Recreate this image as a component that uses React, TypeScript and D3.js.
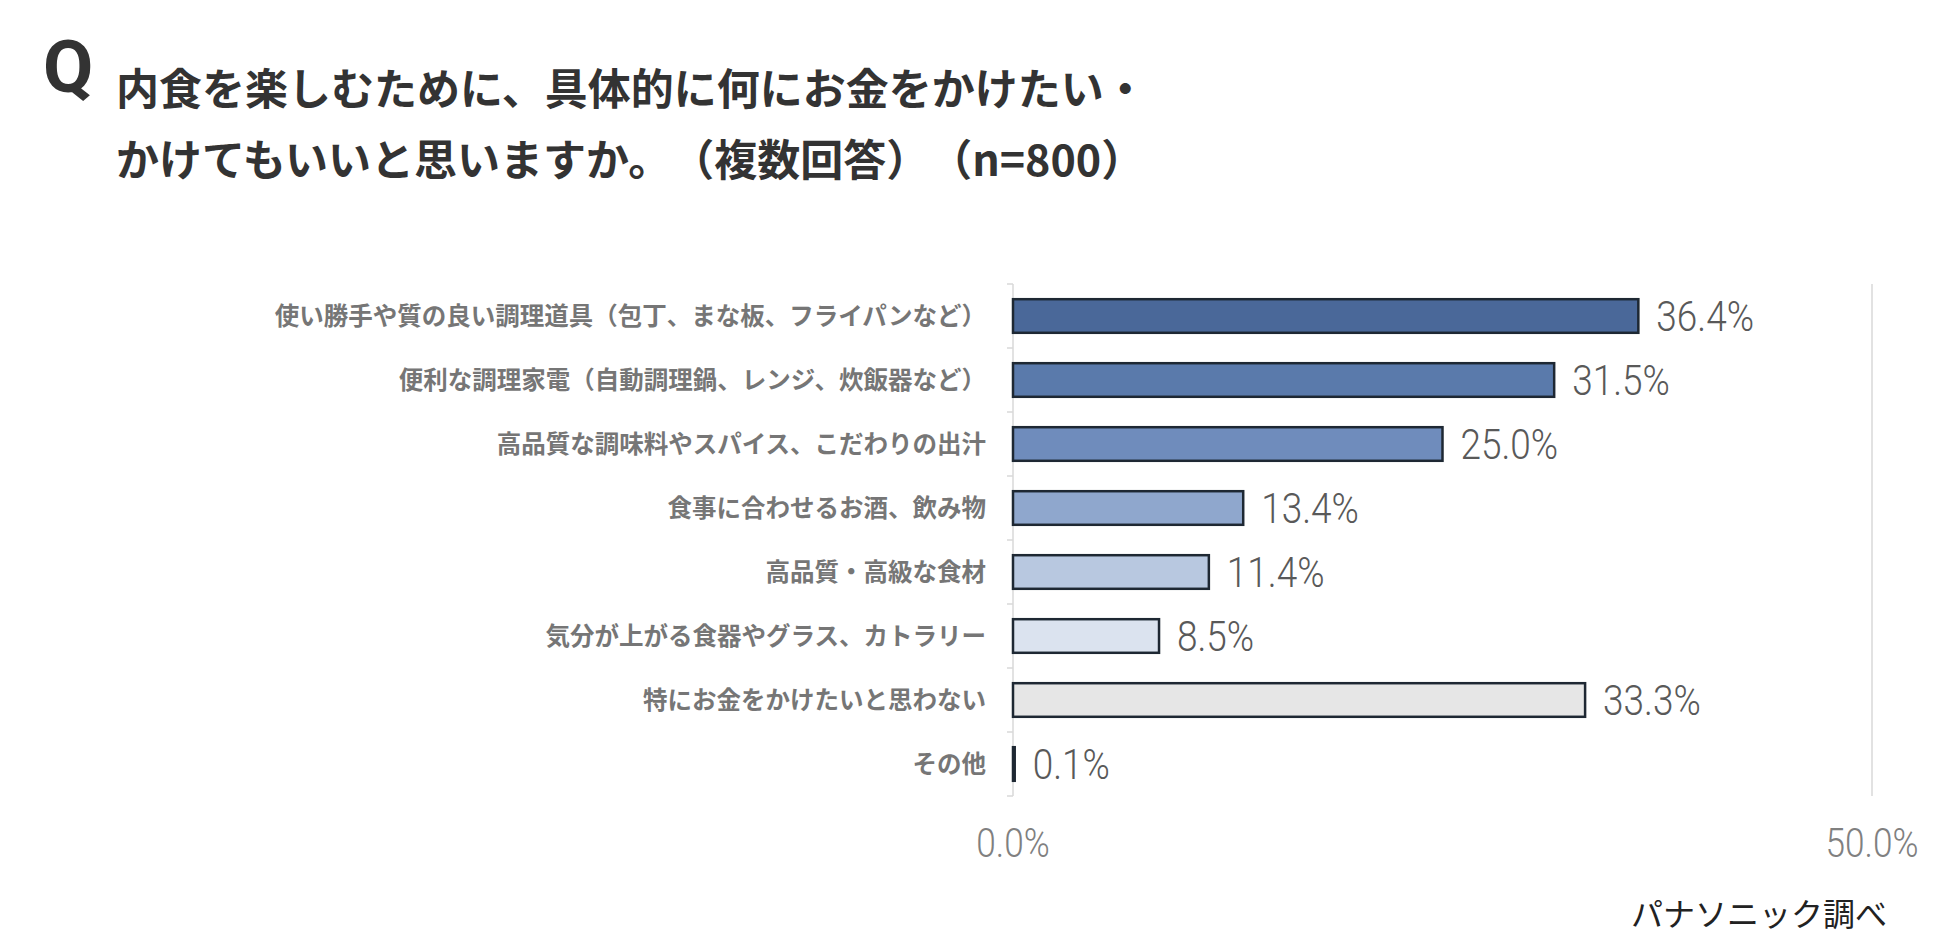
import React from 'react'
import * as d3 from 'd3'

const WIDTH = 1950
const HEIGHT = 951
const X0 = 1013
const X1 = 1872
const TOP = 284
const BOTTOM = 796

const categories = [
  '使い勝手や質の良い調理道具（包丁、まな板、フライパンなど）',
  '便利な調理家電（自動調理鍋、レンジ、炊飯器など）',
  '高品質な調味料やスパイス、こだわりの出汁',
  '食事に合わせるお酒、飲み物',
  '高品質・高級な食材',
  '気分が上がる食器やグラス、カトラリー',
  '特にお金をかけたいと思わない',
  'その他',
]
const values = [36.4, 31.5, 25.0, 13.4, 11.4, 8.5, 33.3, 0.1]
const barColors = ['#4a6899', '#5a7aab', '#6f8cbc', '#8fa7cd', '#b8c8e0', '#dbe3ef', '#e6e6e6', '#e6e6e6']
const xTicks = [0, 50]

const titleLines = [
  '内食を楽しむために、具体的に何にお金をかけたい・',
  'かけてもいいと思いますか。（複数回答）（n=800）',
]

const JP = '"Noto Sans CJK JP", "Noto Sans", sans-serif'
const NUM = 'Roboto, "Noto Sans", sans-serif'

export default function App() {
  const x = d3.scaleLinear().domain([0, 50]).range([X0, X1])
  const y = d3.scaleBand<string>().domain(categories).range([TOP, BOTTOM]).paddingInner(0.475).paddingOuter(0.2375)
  const step = y.step()
  const bounds = d3.range(categories.length + 1).map(i => TOP + i * step)

  return (
    <svg width={WIDTH} height={HEIGHT}
      style={{ position: 'absolute', left: 0, top: 0, background: '#fff', textSpacingTrim: 'space-all' } as any}>
      <text x={43} y={92} fontFamily={NUM} fontWeight={700} fontSize={73} fill="#333">Q</text>
      {titleLines.map((t, i) => (
        <text key={i} x={116} y={105 + i * 71} fontFamily={JP} fontWeight={700} fontSize={43} fill="#333">{t}</text>
      ))}

      {/* grid + axis */}
      {xTicks.filter(t => t > 0).map(t => (
        <line key={t} x1={x(t)} x2={x(t)} y1={TOP} y2={BOTTOM} stroke="#d9d9d9" strokeWidth={1.5} />
      ))}
      <line x1={X0} x2={X0} y1={TOP} y2={BOTTOM} stroke="#d9d9d9" strokeWidth={1.5} />
      {bounds.map((b, i) => (
        <line key={i} x1={X0 - 6} x2={X0} y1={b} y2={b} stroke="#d9d9d9" strokeWidth={1.5} />
      ))}

      {categories.map((c, i) => {
        const cy = (y(c) ?? 0) + y.bandwidth() / 2
        return (
          <g key={c}>
            <rect x={x(0)} y={y(c)} width={Math.max(x(values[i]) - x(0), 0.5)} height={y.bandwidth()}
              fill={barColors[i]} stroke="#1e2833" strokeWidth={2.5} />
            <text transform={`translate(${x(values[i]) + 18},${cy}) scale(0.88,1)`} dy="0.36em"
              fontFamily={NUM} fontWeight={300} fontSize={42} fill="#595959">{values[i].toFixed(1)}%</text>
            <text x={986} y={cy} dy="0.36em" textAnchor="end"
              fontFamily={JP} fontWeight={700} fontSize={24.5} fill="#767676">{c}</text>
          </g>
        )
      })}

      {xTicks.map(t => (
        <text key={t} transform={`translate(${x(t)},843) scale(0.88,1)`} dy="0.36em" textAnchor="middle"
          fontFamily={NUM} fontWeight={300} fontSize={40} fill="#808080">{t.toFixed(1)}%</text>
      ))}

      <text x={1887} y={914} dy="0.36em" textAnchor="end" fontFamily={JP} fontSize={32} fill="#222">パナソニック調べ</text>
    </svg>
  )
}
